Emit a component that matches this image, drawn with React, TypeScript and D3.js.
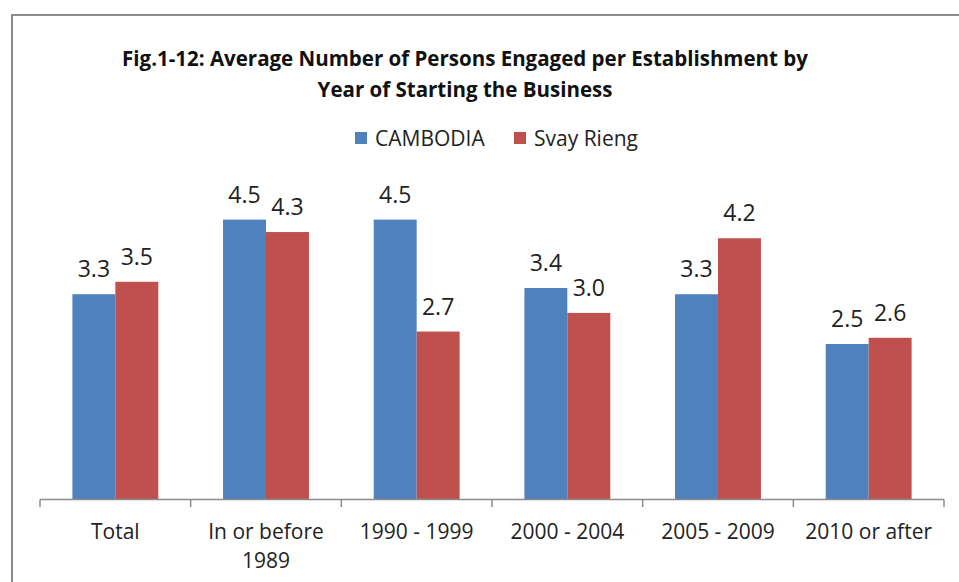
import React from "react";
import * as d3 from "d3";

const categories = ["Total", "In or before\n1989", "1990 - 1999", "2000 - 2004", "2005 - 2009", "2010 or after"];
const cambodia = [3.3, 4.5, 4.5, 3.4, 3.3, 2.5];
const svayRieng = [3.5, 4.3, 2.7, 3.0, 4.2, 2.6];
const seriesNames = ["CAMBODIA", "Svay Rieng"];
const seriesColors = ["#4F81BD", "#C0504D"];
const titleLines = [
  "Fig.1-12: Average Number of Persons Engaged per Establishment by",
  "Year of Starting the Business",
];

const W = 959;
const H = 582;
const FONT = "'Open Sans', 'Noto Sans', sans-serif";

export default function App() {
  const x = d3.scaleBand<string>().domain(categories).range([40, 944]).paddingInner(0).paddingOuter(0);
  const y = d3.scaleLinear().domain([0, 5]).range([499.5, 499.5 - 311]);
  const bw = x.bandwidth() * 0.285;
  const series = [cambodia, svayRieng];
  const ticks = [...categories.map((c) => x(c) as number), 944];

  return (
    <svg width={W} height={H} style={{ position: "absolute", left: 0, top: 0, background: "#fff" }}>
      <rect x={0} y={0} width={W} height={H} fill="#fff" />
      <rect x={12} y={15} width={1200} height={1200} fill="none" stroke="#8c8c8c" strokeWidth={2} />
      {titleLines.map((t, i) => (
        <text key={t} x={465} y={65.5 + i * 31} textAnchor="middle" fontFamily={FONT} fontWeight="bold" fontSize={20.5} fill="#111">
          {t}
        </text>
      ))}
      {/* legend */}
      {seriesNames.map((n, i) => {
        const lx = [355, 514][i];
        return (
          <g key={n}>
            <rect x={lx} y={132} width={12} height={12} fill={seriesColors[i]} />
            <text x={lx + 20} y={145.5} fontFamily={FONT} fontSize={21} fill="#222">
              {n}
            </text>
          </g>
        );
      })}
      {/* bars */}
      {categories.map((c, ci) => {
        const cx = (x(c) as number) + x.bandwidth() / 2;
        return (
          <g key={c}>
            {series.map((s, si) => {
              const bx = cx - bw + si * bw;
              const top = y(s[ci]);
              return (
                <g key={si}>
                  <rect x={bx} y={top} width={bw} height={y(0) - top} fill={seriesColors[si]} />
                  <text x={bx + bw / 2} y={top - 17} textAnchor="middle" fontFamily={FONT} fontSize={23} fill="#222">
                    {s[ci].toFixed(1)}
                  </text>
                </g>
              );
            })}
          </g>
        );
      })}
      {/* axis */}
      <line x1={40} x2={944} y1={499.5} y2={499.5} stroke="#8c8c8c" strokeWidth={1.5} />
      {ticks.map((t, i) => (
        <line key={i} x1={t} x2={t} y1={499.5} y2={507} stroke="#8c8c8c" strokeWidth={1.5} />
      ))}
      {categories.map((c) => {
        const cx = (x(c) as number) + x.bandwidth() / 2;
        return c.split("\n").map((line, li) => (
          <text key={c + li} x={cx} y={539 + li * 29} textAnchor="middle" fontFamily={FONT} fontSize={21} fill="#222">
            {line}
          </text>
        ));
      })}
    </svg>
  );
}
